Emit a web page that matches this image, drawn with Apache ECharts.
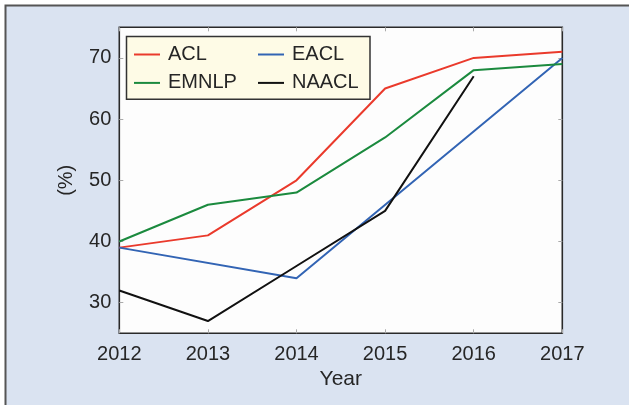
<!DOCTYPE html>
<html>
<head>
<meta charset="utf-8">
<script src="https://cdn.jsdelivr.net/npm/echarts@6/dist/echarts.min.js"></script>
<style>
html,body{margin:0;padding:0;background:#ffffff;}
#c{width:629px;height:405px;}
</style>
</head>
<body>
<div id="c"></div>
<script>
var years = ['2012', '2013', '2014', '2015', '2016', '2017'];
var acl = [39, 41, 50, 65, 70, 71];
var eacl = [39, null, 34, null, null, 70];
var emnlp = [40, 46, 48, 57, 68, 69];
var naacl = [32, 27, 36, 45, 67, null];
var yTicks = [30, 40, 50, 60, 70];

var FONT = 'Liberation Sans, Arial, Helvetica, sans-serif';
var TXT = '#262626';
var chart = echarts.init(document.getElementById('c'), null, {renderer: 'canvas'});

function mk(name, data, color) {
  return {
    name: name, type: 'line', data: data, connectNulls: true,
    showSymbol: false, symbol: 'none',
    lineStyle: {color: color, width: 2}, itemStyle: {color: color},
    xAxisIndex: 0, yAxisIndex: 0, z: 3
  };
}

var option = {
  backgroundColor: '#ffffff',
  animation: false,
  graphic: [
    {type: 'rect', z: -10, shape: {x: 5.5, y: 5.5, width: 700, height: 500},
     style: {fill: '#dae3f1', stroke: '#555555', lineWidth: 2}},
    {type: 'rect', z: 10, shape: {x: 126.5, y: 36.5, width: 243.5, height: 62.8},
     style: {fill: '#fefbe6', stroke: '#333333', lineWidth: 1.5}}
  ],
  grid: {left: 119.3, right: 629 - 562.3, top: 27.3, bottom: 405 - 333.3,
         show: true, backgroundColor: '#fdfdfd', borderColor: '#2a2a2a', borderWidth: 1.6},
  legend: [
    {data: ['ACL', 'EMNLP'], orient: 'vertical', left: 134, top: 44.5, padding: 0,
     itemGap: 8.4, itemWidth: 26, itemHeight: 2, icon: 'rect', z: 20,
     textStyle: {fontFamily: FONT, fontSize: 20, lineHeight: 20, color: TXT, padding: [0, 0, 0, 3]}},
    {data: ['EACL', 'NAACL'], orient: 'vertical', left: 258, top: 44.5, padding: 0,
     itemGap: 8.4, itemWidth: 26, itemHeight: 2, icon: 'rect', z: 20,
     textStyle: {fontFamily: FONT, fontSize: 20, lineHeight: 20, color: TXT, padding: [0, 0, 0, 3]}}
  ],
  xAxis: [
    {type: 'category', data: years, boundaryGap: false, position: 'bottom',
     name: 'Year', nameLocation: 'middle', nameGap: 34,
     nameTextStyle: {fontFamily: FONT, fontSize: 21, color: TXT},
     axisLine: {show: false},
     axisTick: {show: true, inside: true, length: 4, lineStyle: {color: '#aaaaaa', width: 1}},
     axisLabel: {fontFamily: FONT, fontSize: 20, color: TXT, margin: 11},
     splitLine: {show: false}},
    {type: 'category', data: years, boundaryGap: false, position: 'top',
     axisLine: {show: false},
     axisTick: {show: true, inside: true, length: 4, lineStyle: {color: '#aaaaaa', width: 1}},
     axisLabel: {show: false}, splitLine: {show: false}}
  ],
  yAxis: [
    {type: 'value', min: 25, max: 75, interval: 5, position: 'left',
     name: '(%)', nameLocation: 'middle', nameGap: 43, nameRotate: 90,
     nameTextStyle: {fontFamily: FONT, fontSize: 20, color: TXT},
     axisLine: {show: false},
     axisTick: {show: true, inside: true, length: 4, lineStyle: {color: '#aaaaaa', width: 1},
                customValues: yTicks},
     axisLabel: {fontFamily: FONT, fontSize: 20, color: TXT, margin: 8, customValues: yTicks},
     splitLine: {show: false}},
    {type: 'value', min: 25, max: 75, interval: 5, position: 'right',
     axisLine: {show: false},
     axisTick: {show: true, inside: true, length: 4, lineStyle: {color: '#aaaaaa', width: 1},
                customValues: yTicks},
     axisLabel: {show: false}, splitLine: {show: false}}
  ],
  series: [
    mk('ACL', acl, '#ea3a2c'),
    mk('EACL', eacl, '#3264b4'),
    mk('EMNLP', emnlp, '#1b8a3e'),
    mk('NAACL', naacl, '#111111')
  ]
};
chart.setOption(option);
</script>
</body>
</html>
